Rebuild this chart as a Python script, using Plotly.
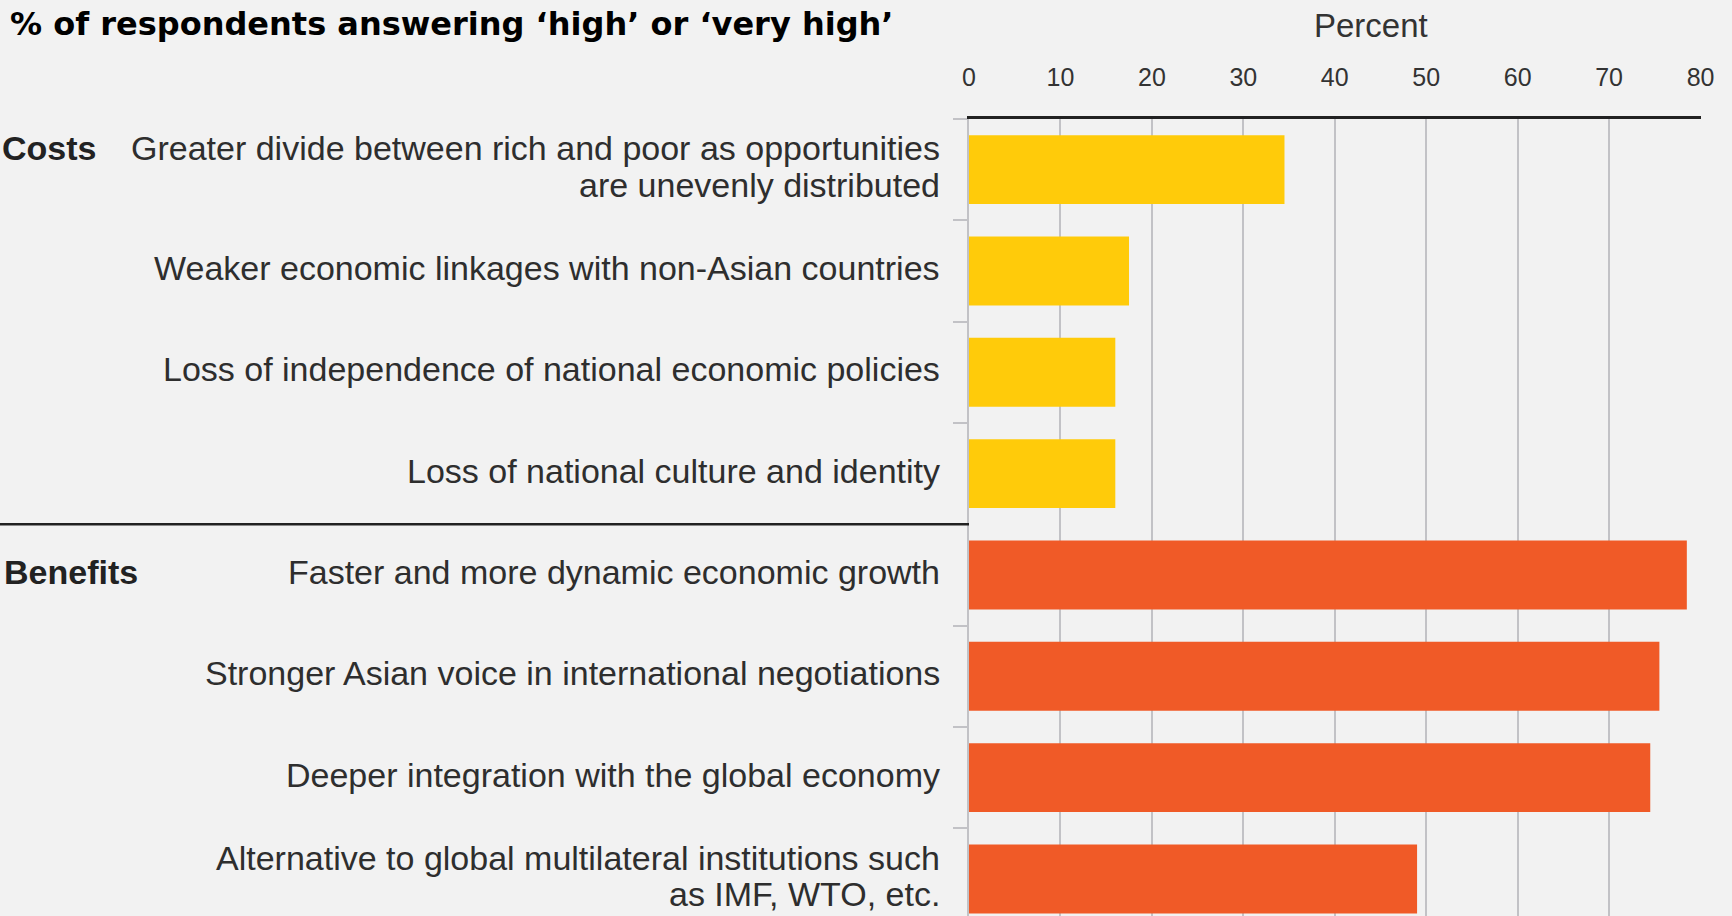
import plotly.graph_objects as go

# ---- data ----
cost_labels = [
    "Greater divide between rich and poor as opportunities<br>are unevenly distributed",
    "Weaker economic linkages with non-Asian countries",
    "Loss of independence of national economic policies",
    "Loss of national culture and identity",
]
cost_values = [34.5, 17.5, 16, 16]

benefit_labels = [
    "Faster and more dynamic economic growth",
    "Stronger Asian voice in international negotiations",
    "Deeper integration with the global economy",
    "Alternative to global multilateral institutions such<br>as IMF, WTO, etc.",
]
benefit_values = [78.5, 75.5, 74.5, 49]

group_names = ["Costs", "Benefits"]
x_ticks = [0, 10, 20, 30, 40, 50, 60, 70, 80]
title_text = "% of respondents answering ‘high’ or ‘very high’"
axis_title = "Percent"

# ---- layout constants (pixels) ----
W, H = 1732, 916
L, R, T, B = 969, 1701, 119, 0
PW, PH = R - L, H - T - B
BAND = 101.33
YR_BOTTOM = -0.5 + PH / BAND

def px_x(px):
    return (px - L) / PW

def px_y(py):
    return (H - B - py) / PH

YELLOW = "#ffcb0a"
ORANGE = "#f05a27"
BG = "#f2f2f2"
GRID = "#c2c2c6"
TXT = "#2e2e2e"

n_c = len(cost_values)
cost_pos = list(range(n_c))
ben_pos = [n_c + i for i in range(len(benefit_values))]

fig = go.Figure()
fig.add_trace(go.Bar(x=cost_values, y=cost_pos, orientation="h", width=0.68,
                     marker=dict(color=YELLOW, line=dict(width=0)), showlegend=False,
                     hoverinfo="x"))
fig.add_trace(go.Bar(x=benefit_values, y=ben_pos, orientation="h", width=0.68,
                     marker=dict(color=ORANGE, line=dict(width=0)), showlegend=False,
                     hoverinfo="x"))

annotations = []
LINE_H = 36.5
YS = 3
for pos, lab in zip(cost_pos + ben_pos, cost_labels + benefit_labels):
    lines = lab.split("<br>")
    n = len(lines)
    for k, ln in enumerate(lines):
        off = ((n - 1) / 2 - k) * LINE_H
        annotations.append(dict(x=0, xref="paper", xshift=-27.5, xanchor="right",
                                y=pos, yref="y", yshift=off + YS, yanchor="middle",
                                text=ln, showarrow=False,
                                font=dict(family="Liberation Sans, Arial", size=34, color=TXT)))

# group labels
annotations.append(dict(x=px_x(0), xref="paper", xanchor="left", y=0, yref="y",
                        yshift=LINE_H / 2 + YS, yanchor="middle", text="<b>%s</b>" % group_names[0],
                        showarrow=False, font=dict(family="Liberation Sans, Arial", size=34, color="#222")))
annotations.append(dict(x=px_x(2), xref="paper", xanchor="left", y=ben_pos[0], yref="y",
                        yshift=YS, yanchor="middle", text="<b>%s</b>" % group_names[1],
                        showarrow=False, font=dict(family="Liberation Sans, Arial", size=34, color="#222")))
# title
annotations.append(dict(x=px_x(8), xref="paper", xanchor="left", y=px_y(24), yref="paper",
                        yanchor="middle", text="<b>%s</b>" % title_text, showarrow=False,
                        font=dict(family="DejaVu Sans", size=32, color="#000")))
# axis title
annotations.append(dict(x=px_x(1371), xref="paper", xanchor="center", y=px_y(25), yref="paper",
                        yanchor="middle", text=axis_title, showarrow=False,
                        font=dict(family="Liberation Sans, Arial", size=33, color="#333")))

shapes = [
    # separator between costs and benefits
    dict(type="line", xref="paper", yref="y", x0=px_x(0), x1=0, y0=n_c - 0.5, y1=n_c - 0.5,
         line=dict(color="#222", width=2.5)),
]

fig.update_layout(
    width=W, height=H,
    margin=dict(l=L, r=W - R, t=T, b=B, pad=0),
    paper_bgcolor=BG, plot_bgcolor=BG,
    bargap=0.3,
    annotations=annotations,
    shapes=shapes,
    xaxis=dict(side="top", range=[0, 80.05], tickvals=x_ticks,
               ticktext=[str(v) for v in x_ticks],
               showgrid=True, gridcolor=GRID, gridwidth=2,
               zeroline=False, showline=True, linecolor="#222", linewidth=2.5,
               ticks="", ticklabelstandoff=20,
               tickfont=dict(family="Liberation Sans, Arial", size=25, color="#333"),
               fixedrange=True),
    yaxis=dict(range=[YR_BOTTOM, -0.5], tickvals=[i - 0.5 for i in range(len(cost_pos + ben_pos))],
               ticktext=["" for _ in range(len(cost_pos + ben_pos))],
               ticks="outside", ticklen=14, tickcolor=GRID, tickwidth=2,
               showgrid=False, zeroline=False, showline=True, linecolor=GRID, linewidth=2,
               fixedrange=True),
)

fig.write_html("out.html")
